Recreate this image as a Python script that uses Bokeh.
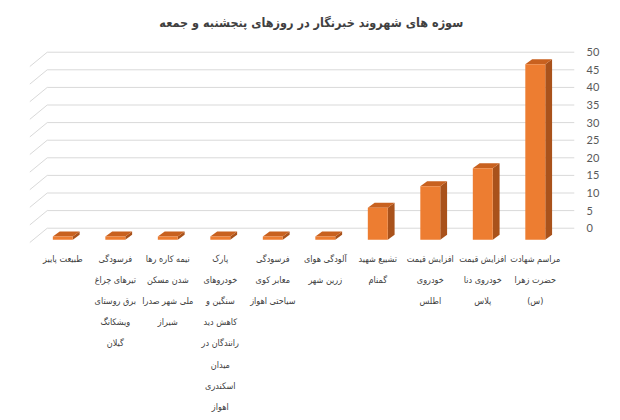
import numpy as np
from bokeh.plotting import figure
from bokeh.models import Range1d, LinearAxis, FixedTicker, ColumnDataSource
from bokeh.core.properties import value
from bokeh.embed import file_html
from bokeh.resources import INLINE

# ---------------- data ----------------
title_text = "سوژه های شهروند خبرنگار در روزهای پنجشنبه و جمعه"
categories = [
    "طبیعت پاییز",
    "فرسودگی\nتیرهای چراغ\nبرق روستای\nویشکانگ\nگیلان",
    "نیمه کاره رها\nشدن مسکن\nملی شهر صدرا\nشیراز",
    "پارک\nخودروهای\nسنگین و\nکاهش دید\nرانندگان در\nمیدان\nاسکندری\nاهواز",
    "فرسودگی\nمعابر کوی\nسیاحتی اهواز",
    "آلودگی هوای\nزرین شهر",
    "تشییع شهید\nگمنام",
    "افزایش قیمت\nخودروی\nاطلس",
    "افزایش قیمت\nخودروی دنا\nپلاس",
    "مراسم شهادت\nحضرت زهرا\n(س)",
]
counts = [0, 0, 0, 0, 0, 0, 8, 14, 19, 48]
y_ticks = [0, 5, 10, 15, 20, 25, 30, 35, 40, 45, 50]

# ---------------- geometry / style (pseudo 3-D) ----------------
n = len(categories)
xs = np.arange(n, dtype=float)
vals = np.array(counts, dtype=float)

half_w = 0.19      # half width of the front face (x units)
dx, dy = 0.13, 1.42  # depth offset of the 3-D box
base = -3.3        # front face bottom (value units, below the back-wall zero)
slab = 0.94        # thickness shown for a zero-value bar
kf = 1.02          # perspective scale of the front face

left = xs - half_w
right = xs + half_w
bottom = np.full(n, base)
top = base + slab + vals * kf

front = ColumnDataSource(dict(left=left, right=right, bottom=bottom, top=top))
top_xs = [[l, r, r + dx, l + dx] for l, r in zip(left, right)]
top_ys = [[t, t, t + dy, t + dy] for t in top]
side_xs = [[r, r + dx, r + dx, r] for r in right]
side_ys = [[b, b + dy, t + dy, t] for b, t in zip(bottom, top)]

X0, X1 = -1.187, 9.747
p = figure(width=620, height=420,
           x_range=Range1d(X0, X1), y_range=Range1d(-54.63, 64.69),
           output_backend="svg", toolbar_location=None,
           x_axis_location=None, y_axis_location=None,
           min_border_left=0, min_border_top=0, min_border_bottom=0,
           min_border_right=46)
p.grid.visible = False
p.outline_line_color = None
p.background_fill_color = "white"
p.border_fill_color = "white"

# back wall gridlines + side-wall diagonals
wall_x = -0.297
gt = np.array(y_ticks, dtype=float)
p.segment(x0=np.full(len(gt), wall_x), y0=gt, x1=np.full(len(gt), X1), y1=gt,
          line_color="#d9d9d9", line_width=1)
p.segment(x0=np.full(len(gt), wall_x), y0=gt, x1=np.full(len(gt), wall_x - 0.331),
          y1=gt - 4.06, line_color="#d9d9d9", line_width=1)

# bars
p.patches(xs=side_xs, ys=side_ys, fill_color="#A9521B", line_color=None)
p.patches(xs=top_xs, ys=top_ys, fill_color="#C8611F", line_color=None)
p.quad(left="left", right="right", bottom="bottom", top="top", source=front,
       fill_color="#ED7D31", line_color=None)

# right value axis
ax = LinearAxis(ticker=FixedTicker(ticks=y_ticks))
ax.axis_line_color = None
ax.major_tick_line_color = None
ax.minor_tick_line_color = None
ax.major_label_standoff = 6
ax.major_label_text_font = "Lato"
ax.major_label_text_font_size = "11px"
ax.major_label_text_color = "#595959"
p.add_layout(ax, "right")

# category labels
p.text(x=xs, y=np.full(n, -7.2), text=categories,
       text_align="center", text_baseline="top",
       text_font=value("DejaVu Sans Condensed"), text_font_size="9px",
       text_color="#404040", text_line_height=2.12)

# title
p.text(x=[4.733], y=[58.5], text=[title_text], text_align="center",
       text_baseline="middle", text_font=value("DejaVu Sans Condensed"),
       text_font_size="12.5px", text_font_style="bold", text_color="#404040")

open("out.html", "w").write(file_html(p, INLINE))
